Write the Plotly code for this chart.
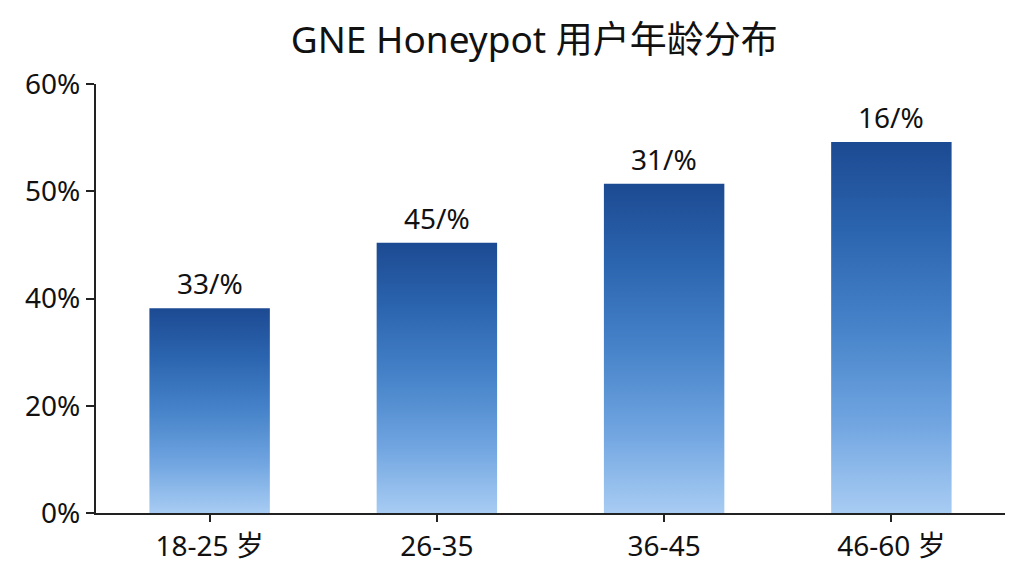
import numpy as np
import plotly.graph_objects as go

# values
categories = ["18-25 岁", "26-35", "36-45", "46-60 岁"]
shares = [38.2, 45.2, 50.7, 54.6]          # bar tops, in % on the drawn axis
bar_labels = ["33/%", "45/%", "31/%", "16/%"]
tick_values = [0, 20, 40, 50, 60]
tick_labels = ["0%", "20%", "40%", "50%", "60%"]

# the y axis puts its ticks evenly even though the steps are uneven
tick_pos = list(range(len(tick_values)))
heights = np.interp(shares, tick_values, tick_pos)

bar_w = 0.53
blues = [[0, "#a8ccf3"], [0.25, "#6fa4e0"], [0.5, "#4683c9"],
         [0.75, "#2c66b0"], [1, "#1c4a92"]]
font = "Noto Sans, Noto Sans CJK SC, sans-serif"

fig = go.Figure()

for i, h in enumerate(heights):
    x0, x1 = i - bar_w / 2, i + bar_w / 2
    fig.add_trace(go.Scatter(
        x=[x0, x0, x1, x1, x0],
        y=[0, h, h, 0, 0],
        mode="lines",
        line=dict(width=0),
        fill="toself",
        fillgradient=dict(type="vertical", colorscale=blues),
        hoverinfo="skip",
        showlegend=False,
    ))
    fig.add_annotation(x=i, y=h, text=bar_labels[i], showarrow=False,
                       yanchor="middle", yshift=25,
                       font=dict(size=28, color="#111"))

# page body has an 8px margin, so the figure is 8px smaller and margins shifted
fig.update_layout(
    width=1016, height=568,
    margin=dict(l=88, r=19, t=76, b=61),
    paper_bgcolor="white", plot_bgcolor="white",
    font=dict(family=font, color="#111"),
    title=dict(text="GNE Honeypot 用户年龄分布", x=0.518, xanchor="center",
               y=0.944, yanchor="middle", font=dict(size=37, color="#111")),
)
fig.update_xaxes(
    range=[-0.5, len(categories) - 0.5],
    tickvals=list(range(len(categories))), ticktext=categories,
    showgrid=False, zeroline=False,
    showline=True, linecolor="#222", linewidth=2,
    ticks="outside", ticklen=7, tickwidth=2, tickcolor="#222",
    tickfont=dict(size=28, color="#111"),
)
fig.update_yaxes(
    range=[0, tick_pos[-1]],
    tickvals=tick_pos, ticktext=tick_labels,
    showgrid=False, zeroline=False,
    showline=True, linecolor="#222", linewidth=2,
    ticks="outside", ticklen=8, tickwidth=2, tickcolor="#222",
    tickfont=dict(size=28, color="#111"),
)

fig.write_html("out.html")
